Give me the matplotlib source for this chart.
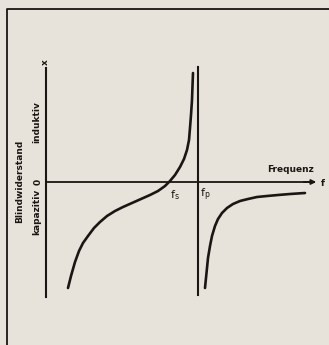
import matplotlib.pyplot as plt

# Kurve unterhalb von fp (kapazitiv -> fs -> induktiv), Einheiten: Bildpunkte relativ zum Ursprung
f_unten = [22, 25, 29, 33, 37, 42, 48, 54, 61, 69, 77, 86, 95, 104, 112, 119, 124,
           129, 134, 138, 141, 143, 144, 145, 146, 146.5, 147]
x_unten = [-106, -94, -80, -69, -61, -54, -46, -40, -34, -29, -25, -21, -17, -13, -9, -4, 1,
           7, 15, 23, 32, 42, 54, 67, 82, 96, 109]

# Kurve oberhalb von fp (kapazitiv, naehert sich 0)
f_oben = [159, 160, 161, 162, 164, 166, 169, 172, 176, 181, 187, 194, 202, 211, 221, 232, 244, 259]
x_oben = [-106, -96, -86, -76, -64, -54, -44, -37, -31, -26, -22, -19, -17, -15, -14, -13, -12, -11]

fs = 124
fp = 152

bg = '#e8e3da'
fig = plt.figure(figsize=(3.29, 3.45), dpi=100, facecolor=bg)
ax = fig.add_axes([0, 0, 1, 1])
ax.set_facecolor(bg)
ax.set_xlim(-46, 283)
ax.set_ylim(-163, 182)
ax.axis('off')

ink = '#1a1614'

# Rahmen
ax.plot([-39, -39, 283], [-163, 173, 173], color=ink, lw=1.3)

# Achsen
ax.plot([0, 0], [-115, 114], color=ink, lw=1.5)
ax.plot([0, 268], [0, 0], color=ink, lw=1.3)
ax.annotate('', xy=(273, 0), xytext=(255, 0),
            arrowprops=dict(arrowstyle='-|>', color=ink, lw=1.3, mutation_scale=7))
ax.plot([fp, fp], [-113, 115], color=ink, lw=1.5)

# Kurven
ax.plot(f_unten, x_unten, color=ink, lw=1.9, solid_capstyle='round', solid_joinstyle='round')
ax.plot(f_oben, x_oben, color=ink, lw=1.9, solid_capstyle='round', solid_joinstyle='round')

fs_kw = dict(color=ink, fontsize=6.5, family='DejaVu Sans', fontweight='semibold')
ax.text(-1, 120, 'x', ha='center', va='center', rotation=90, **fs_kw)
ax.text(-8, 0, '0', ha='center', va='center', rotation=90, **fs_kw)
ax.text(-26, 1, 'Blindwiderstand', ha='center', va='center', rotation=90, **fs_kw)
ax.text(-9, 60, 'induktiv', ha='center', va='center', rotation=90, **fs_kw)
ax.text(-9, -30, 'kapazitiv', ha='center', va='center', rotation=90, **fs_kw)
ax.text(244, 12, 'Frequenz', ha='center', va='center', **fs_kw)
ax.text(277, -1, 'f', ha='center', va='center', **fs_kw)

sub_kw = dict(color=ink, fontsize=8, family='DejaVu Sans', ha='center', va='center')
ax.text(fs + 5, -13, r'f$_{\rm s}$', **sub_kw)
ax.text(fp + 7, -13, r'f$_{\rm p}$', **sub_kw)

fig.savefig('out.png', dpi=100, facecolor=bg)
